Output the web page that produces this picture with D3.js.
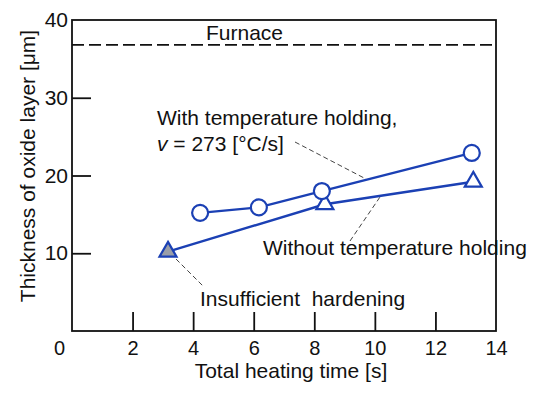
<!DOCTYPE html>
<html>
<head>
<meta charset="utf-8">
<script src="https://cdn.jsdelivr.net/npm/d3@7"></script>
<style>
  body { margin: 0; background: #fff; }
  svg text { font-family: "Liberation Sans", Arial, sans-serif; fill: #111; }
</style>
</head>
<body>
<svg id="chart" width="550" height="394"></svg>
<script>
// data
const withHoldTime = [4.23, 6.17, 8.25, 13.2];
const withHoldThick = [15.2, 15.9, 18.0, 22.9];
const withoutHoldTime = [3.17, 8.35, 13.25];
const withoutHoldThick = [10.2, 16.3, 19.2];
const furnaceThick = 36.8;
const xTicks = [0, 2, 4, 6, 8, 10, 12, 14];
const yTicks = [10, 20, 30, 40];

const margin = { top: 20, right: 54, bottom: 63, left: 72 };
const width = 550, height = 394;
const font = '"Liberation Sans", Arial, sans-serif';

const svg = d3.select('#chart');

const x = d3.scaleLinear().domain([0, 14]).range([margin.left, width - margin.right]);
const y = d3.scaleLinear().domain([0, 40]).range([height - margin.bottom, margin.top]);

const blue = '#1b40b4';
const tickLen = 19;

// frame
svg.append('rect')
    .attr('x', x(0)).attr('y', y(40))
    .attr('width', x(14) - x(0)).attr('height', y(0) - y(40))
    .attr('fill', 'none').attr('stroke', '#111').attr('stroke-width', 1.8);

// x axis, ticks inward
const xAxis = svg.append('g')
    .attr('transform', `translate(0,${y(0)})`)
    .call(d3.axisBottom(x).tickValues(xTicks).tickSizeInner(-tickLen).tickSizeOuter(0).tickPadding(10));
xAxis.select('.domain').remove();
xAxis.selectAll('line').attr('stroke', '#111').attr('stroke-width', 1.8);
xAxis.selectAll('.tick').filter(d => d === 0 || d === 14).select('line').remove();
xAxis.selectAll('text').attr('font-size', 20).attr('font-family', font).attr('fill', '#111');
xAxis.selectAll('.tick').filter(d => d === 0).select('text').attr('dx', -13);

// y axis, ticks inward
const yAxis = svg.append('g')
    .attr('transform', `translate(${x(0)},0)`)
    .call(d3.axisLeft(y).tickValues(yTicks).tickSizeInner(-tickLen).tickSizeOuter(0).tickPadding(4));
yAxis.select('.domain').remove();
yAxis.selectAll('line').attr('stroke', '#111').attr('stroke-width', 1.8);
yAxis.selectAll('.tick').filter(d => d === 40).select('line').remove();
yAxis.selectAll('text').attr('font-size', 21).attr('font-family', font).attr('fill', '#111');

// axis titles
svg.append('text')
    .attr('x', 291).attr('y', 378)
    .attr('text-anchor', 'middle').attr('font-size', 21)
    .text('Total heating time [s]');

svg.append('text')
    .attr('transform', `translate(35,166) rotate(-90)`)
    .attr('text-anchor', 'middle').attr('font-size', 21)
    .text('Thickness of oxide layer [μm]');

// furnace level
svg.append('line')
    .attr('x1', x(0)).attr('x2', x(14))
    .attr('y1', y(furnaceThick)).attr('y2', y(furnaceThick))
    .attr('stroke', '#111').attr('stroke-width', 1.6)
    .attr('stroke-dasharray', '12,5');
svg.append('text')
    .attr('x', 206).attr('y', y(furnaceThick) - 5)
    .attr('font-size', 21).text('Furnace');

// leader lines
const leader = (x1, y1, x2, y2) => svg.append('line')
    .attr('x1', x1).attr('y1', y1).attr('x2', x2).attr('y2', y2)
    .attr('stroke', '#444').attr('stroke-width', 1).attr('stroke-dasharray', '5,3');
leader(295, 142, 366, 179);
leader(350, 241, 380, 197);
leader(176, 259, 203, 286);

// series lines
const line = d3.line().x(d => x(d[0])).y(d => y(d[1]));
const withPts = withHoldTime.map((t, i) => [t, withHoldThick[i]]);
const withoutPts = withoutHoldTime.map((t, i) => [t, withoutHoldThick[i]]);

svg.append('path').datum(withoutPts).attr('d', line)
    .attr('fill', 'none').attr('stroke', blue).attr('stroke-width', 2.4);
svg.append('path').datum(withPts).attr('d', line)
    .attr('fill', 'none').attr('stroke', blue).attr('stroke-width', 2.4);

// markers
const tri = d3.symbol().type(d3.symbolTriangle).size(125);
svg.selectAll('.tri').data(withoutPts).join('path')
    .attr('class', 'tri')
    .attr('d', tri)
    .attr('transform', d => `translate(${x(d[0])},${y(d[1])})`)
    .attr('fill', (d, i) => i === 0 ? '#9a9ea8' : '#fff')
    .attr('stroke', blue).attr('stroke-width', 2.2);

svg.selectAll('.circ').data(withPts).join('circle')
    .attr('class', 'circ')
    .attr('cx', d => x(d[0])).attr('cy', d => y(d[1])).attr('r', 8)
    .attr('fill', '#fff').attr('stroke', blue).attr('stroke-width', 2.2);

// annotations
svg.append('text').attr('x', 157).attr('y', 125).attr('font-size', 21)
    .text('With temperature holding,');
const vt = svg.append('text').attr('x', 157).attr('y', 151).attr('font-size', 21);
vt.append('tspan').attr('font-style', 'italic').text('v');
vt.append('tspan').text(' = 273 [°C/s]');

svg.append('text').attr('x', 263).attr('y', 255).attr('font-size', 21)
    .text('Without temperature holding');

svg.append('text').attr('x', 200).attr('y', 306).attr('font-size', 21)
    .style('white-space', 'pre')
    .text('Insufficient  hardening');
</script>
</body>
</html>
